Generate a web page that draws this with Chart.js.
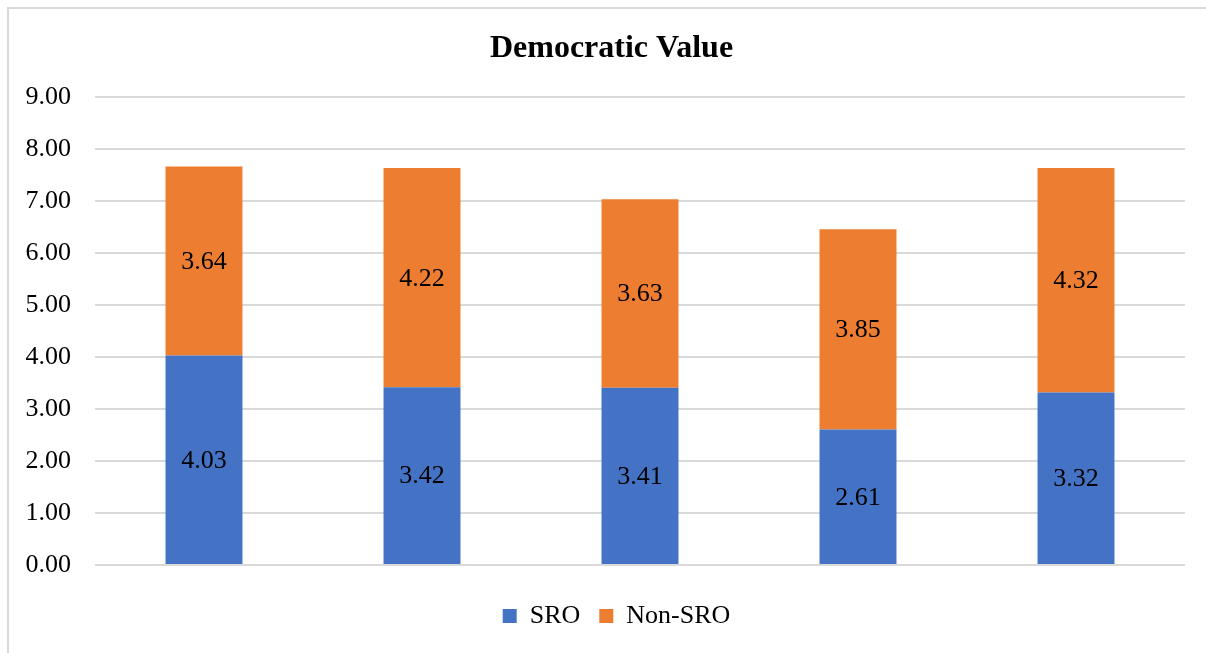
<!DOCTYPE html>
<html>
<head>
<meta charset="utf-8">
<script src="https://cdn.jsdelivr.net/npm/chart.js@4"></script>
<style>
  html, body { margin: 0; padding: 0; background: #ffffff; overflow: hidden; width: 1206px; height: 653px; }
  #frame { position: absolute; left: 7px; top: 7px; width: 1400px; height: 900px; border: 2px solid #d9d9d9; box-sizing: border-box; }
  #wrap { position: absolute; left: 0; top: 0; width: 1206px; height: 653px; }
</style>
</head>
<body>
<div id="frame"></div>
<div id="wrap"><canvas id="c" width="1206" height="653"></canvas></div>
<script>
const categories = ["1", "2", "3", "4", "5"];
const sroValues = [4.03, 3.42, 3.41, 2.61, 3.32];
const nonSroValues = [3.64, 4.22, 3.63, 3.85, 4.32];
const yTicks = [0, 1, 2, 3, 4, 5, 6, 7, 8, 9];
const seriesNames = ["SRO", "Non-SRO"];

const FONT = "'Liberation Serif', 'Times New Roman', serif";

const barLabels = {
  id: 'barLabels',
  afterDatasetsDraw(chart) {
    const ctx = chart.ctx;
    ctx.save();
    ctx.font = "26px " + FONT;
    ctx.fillStyle = '#000000';
    ctx.textAlign = 'center';
    ctx.textBaseline = 'middle';
    chart.data.datasets.forEach((ds, di) => {
      const meta = chart.getDatasetMeta(di);
      meta.data.forEach((bar, i) => {
        const props = bar.getProps(['x', 'y', 'base'], true);
        const cy = (props.y + props.base) / 2;
        ctx.fillText(ds.data[i].toFixed(2), props.x, cy + 1);
      });
    });
    ctx.restore();
  }
};

// shift legend and title horizontally to match the reference centring
const shiftBlocks = {
  id: 'shiftBlocks',
  afterLayout(chart) {
    if (chart.legend) { chart.legend.left += 24; chart.legend.right += 24; }
    if (chart.titleBlock) { chart.titleBlock.left += 19; chart.titleBlock.right += 19; }
  }
};

new Chart(document.getElementById('c'), {
  type: 'bar',
  data: {
    labels: categories,
    datasets: [
      { label: seriesNames[0], data: sroValues, backgroundColor: '#4472C4', borderWidth: 0 },
      { label: seriesNames[1], data: nonSroValues, backgroundColor: '#ED7D31', borderWidth: 0 }
    ]
  },
  options: {
    responsive: false,
    animation: false,
    devicePixelRatio: 1,
    layout: { padding: { left: 0, right: 21, top: 0, bottom: 14 } },
    datasets: { bar: { barPercentage: 0.353, categoryPercentage: 1.0 } },
    plugins: {
      title: {
        display: true,
        text: 'Democratic Value',
        color: '#000000',
        font: { family: FONT, size: 32, weight: 'bold', lineHeight: 1.2 },
        padding: { top: 30, bottom: 29 }
      },
      legend: {
        position: 'bottom',
        labels: {
          color: '#000000',
          font: { family: FONT, size: 26 },
          boxWidth: 14,
          boxHeight: 14,
          padding: 19
        }
      },
      tooltip: { enabled: false }
    },
    scales: {
      x: {
        stacked: true,
        grid: { display: false },
        border: { display: false },
        ticks: { display: false },
        afterFit(scale) { scale.height = 19; }
      },
      y: {
        stacked: true,
        min: 0,
        max: 9,
        afterBuildTicks(scale) { scale.ticks = yTicks.map(v => ({ value: v })); },
        afterFit(scale) { scale.width = 95; },
        grid: { color: '#d9d9d9', lineWidth: 2, drawTicks: false },
        border: { display: false },
        ticks: {
          color: '#000000',
          padding: 24,
          font: { family: FONT, size: 26 },
          callback: (v) => Number(v).toFixed(2)
        }
      }
    }
  },
  plugins: [barLabels, shiftBlocks]
});
</script>
</body>
</html>
